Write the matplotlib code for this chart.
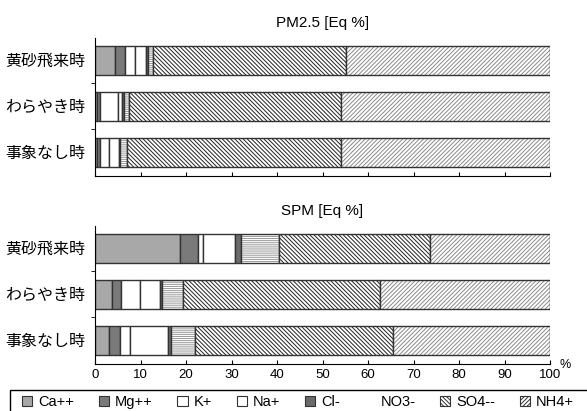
import matplotlib
matplotlib.use('Agg')
import matplotlib.pyplot as plt
from matplotlib.patches import Patch, Rectangle

plt.rcParams['font.family'] = ['Liberation Sans', 'Noto Sans CJK JP']
plt.rcParams['hatch.linewidth'] = 0.7

categories = ['黄砂飛来時', 'わらやき時', '事象なし時']
components = ['Ca++', 'Mg++', 'K+', 'Na+', 'Cl-', 'NO3-', 'SO4--', 'NH4+']

# PM2.5 当量比 [%]
pm_ca = [4.3, 0.4, 0.4]
pm_mg = [2.2, 0.8, 0.8]
pm_k = [2.3, 3.8, 1.9]
pm_na = [2.3, 1.0, 2.1]
pm_cl = [0.45, 0.4, 0.3]
pm_no3 = [1.2, 1.0, 1.5]
pm_so4 = [42.35, 46.7, 47.1]
pm_nh4 = [44.9, 45.9, 45.9]

# SPM 当量比 [%]
spm_ca = [18.7, 3.7, 3.0]
spm_mg = [3.9, 2.1, 2.4]
spm_k = [1.1, 4.0, 2.2]
spm_na = [7.0, 4.5, 8.4]
spm_cl = [1.4, 0.4, 0.7]
spm_no3 = [8.3, 4.6, 5.3]
spm_so4 = [33.2, 43.4, 43.5]
spm_nh4 = [26.4, 37.3, 34.5]

# 塗り・ハッチ・ハッチ色
fills = ['#a8a8a8', '#7a7a7a', 'white', 'white', '#6a6a6a', 'white', 'white', 'white']
hatches = [None, None, None, None, None, '-' * 8, '\\' * 8, '/' * 8]
hcolors = ['#333333', '#333333', '#333333', '#333333', '#333333', '#999999', '#222222', '#8a8a8a']

fig = plt.figure(figsize=(5.87, 4.11), dpi=100)
ax1 = fig.add_axes([95 / 587, 1 - 176 / 411, 455 / 587, 138 / 411])
ax2 = fig.add_axes([95 / 587, 1 - 364 / 411, 455 / 587, 138 / 411])


def draw(ax, series, title):
    y = list(range(len(categories)))
    left = [0.0] * len(categories)
    for vals, fc, h, hc in zip(series, fills, hatches, hcolors):
        ax.barh(y, vals, left=left, height=0.63, color=fc, edgecolor=hc,
                hatch=h, linewidth=0)
        ax.barh(y, vals, left=left, height=0.63, fill=False,
                edgecolor='#333333', linewidth=1.0)
        left = [a + b for a, b in zip(left, vals)]
    ax.set_xlim(0, 100)
    ax.set_ylim(2.51, -0.48)
    ax.set_yticks(y)
    ax.set_yticklabels(categories, fontsize=11.5)
    ax.set_yticks([0.5, 1.5], minor=True)
    ax.tick_params(axis='y', which='major', length=0, pad=7)
    ax.tick_params(axis='y', which='minor', length=3, direction='out')
    ax.set_xticks(range(0, 101, 10))
    ax.tick_params(axis='x', direction='in', length=3, labelsize=9.5)
    for s in ['top', 'right']:
        ax.spines[s].set_visible(False)
    ax.set_title(title, fontsize=11, pad=8)


draw(ax1, [pm_ca, pm_mg, pm_k, pm_na, pm_cl, pm_no3, pm_so4, pm_nh4], 'PM2.5 [Eq %]')
draw(ax2, [spm_ca, spm_mg, spm_k, spm_na, spm_cl, spm_no3, spm_so4, spm_nh4], 'SPM [Eq %]')
ax1.tick_params(axis='x', labelbottom=False)
fig.text(560 / 587, 1 - 368 / 411, '%', fontsize=9)

# 凡例
handles = []
for i, name in enumerate(components):
    if name == 'NO3-':
        handles.append(Patch(facecolor='none', edgecolor='none', label=name))
    else:
        handles.append(Patch(facecolor=fills[i], edgecolor='#333333', hatch=hatches[i],
                             linewidth=0.8, label=name))
fig.add_artist(Rectangle((10 / 587, -0.05), 1.0, 0.05 + 21 / 411, transform=fig.transFigure,
                         fill=False, edgecolor='black', linewidth=1.0))
fig.legend(handles=handles, loc='center left', bbox_to_anchor=(22 / 587, 0.022, 552 / 587, 0.0),
           mode='expand', ncol=8, frameon=False, fontsize=10.5, handlelength=0.7,
           handleheight=0.7, handletextpad=0.4, borderaxespad=0, borderpad=0)

fig.savefig('out.png', dpi=100)
